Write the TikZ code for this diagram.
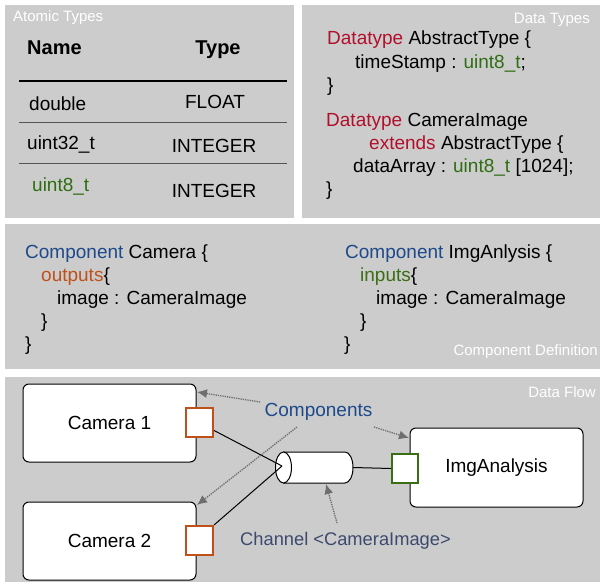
\documentclass[tikz,border=0pt]{standalone}
\usepackage{fontspec}
\setmainfont{Liberation Sans}
\usetikzlibrary{arrows.meta}
\definecolor{panelgray}{HTML}{CCCCCC}
\definecolor{kwred}{HTML}{B0102C}
\definecolor{kwgreen}{HTML}{2F6E12}
\definecolor{kwblue}{HTML}{1C4A8A}
\definecolor{kworange}{HTML}{C0501A}
\definecolor{portgreen}{HTML}{3A6E14}
\definecolor{chancol}{HTML}{3C4A6E}
\definecolor{hintgray}{HTML}{6E6E6E}
\definecolor{rulegray}{HTML}{555555}
\begin{document}
\begin{tikzpicture}[x=1pt,y=-1pt,
  panel/.style={fill=panelgray, draw=none},
  txt/.style={anchor=base west, inner sep=0pt, font=\fontsize{19}{23}\selectfont},
  ctxt/.style={anchor=base, inner sep=0pt, font=\fontsize{19}{23}\selectfont},
  btxt/.style={anchor=base west, inner sep=0pt, font=\fontsize{20}{24}\selectfont\bfseries},
  bctxt/.style={anchor=base, inner sep=0pt, font=\fontsize{20}{24}\selectfont\bfseries},
  plabel/.style={inner sep=0pt, text=white, font=\fontsize{15}{18}\selectfont},
  comp/.style={draw=black, line width=1pt, fill=white, rounded corners=6pt,
    minimum width=173pt, minimum height=78pt, inner sep=0pt, font=\fontsize{19}{23}\selectfont},
  outport/.style={draw=kworange, line width=2.2pt, fill=white, minimum width=27pt, minimum height=29pt, inner sep=0pt},
  inport/.style={draw=portgreen, line width=2.2pt, fill=white, minimum width=26pt, minimum height=29pt, inner sep=0pt},
  wire/.style={draw=black, line width=1pt},
  hint/.style={draw=hintgray, line width=1.3pt, densely dotted, -{Latex[length=10pt,width=9pt]}},
  hdrrule/.style={line width=1.5pt, draw=black},
  rowrule/.style={line width=1pt, draw=rulegray}
]
\useasboundingbox (0,0) rectangle (601,585);
\fill[white] (0,0) rectangle (601,585);

% panels
\fill[panel] (5,5) rectangle (294,218);
\fill[panel] (302,5) rectangle (600,218);
\fill[panel] (5,224) rectangle (600,369);
\fill[panel] (5,377) rectangle (600,582);

% panel labels
\node[plabel, anchor=base west] (lblA) at (13,22) {Atomic Types};
\node[plabel, anchor=base east] (lblD) at (590,24) {Data Types};
\node[plabel, anchor=base east] (lblC) at (598,355) {Component Definition};
\node[plabel, anchor=base east] (lblF) at (596,397) {Data Flow};

% atomic types table
\node[btxt] (hname) at (27,55) {Name};
\node[bctxt] (htype) at (218,55) {Type};
\draw[hdrrule] (19,81) -- (287,81);
\node[txt] (r1a) at (29,111) {double};
\node[ctxt] (r1b) at (215,109) {FLOAT};
\draw[rowrule] (19,123) -- (287,123);
\node[txt] (r2a) at (27,150) {uint32\_t};
\node[ctxt] (r2b) at (214,153) {INTEGER};
\draw[rowrule] (19,164) -- (287,164);
\node[txt, text=kwgreen] (r3a) at (32,192) {uint8\_t};
\node[ctxt] (r3b) at (214,197) {INTEGER};

% data types
\node[txt] (d1) at (327,45) {\textcolor{kwred}{Datatype} AbstractType \{};
\node[txt] (d2) at (355,68.5) {timeStamp : \textcolor{kwgreen}{uint8\_t};};
\node[txt] (d3) at (327,92) {\}};
\node[txt] (d4) at (326,127) {\textcolor{kwred}{Datatype} CameraImage};
\node[txt] (d5) at (369,150) {\textcolor{kwred}{extends} AbstractType \{};
\node[txt] (d6) at (353,173) {dataArray : \textcolor{kwgreen}{uint8\_t} [1024];};
\node[txt] (d7) at (326,196) {\}};

% component definitions
\node[txt] (c1) at (25,258) {\textcolor{kwblue}{Component} Camera \{};
\node[txt] (c2) at (41,281) {\textcolor{kworange}{outputs}\{};
\node[txt] (c3) at (57,304) {image : CameraImage};
\node[txt] (c4) at (41,327) {\}};
\node[txt] (c5) at (25,350) {\}};
\node[txt] (i1) at (345,258) {\textcolor{kwblue}{Component} ImgAnlysis \{};
\node[txt] (i2) at (360,281) {\textcolor{portgreen}{inputs}\{};
\node[txt] (i3) at (376,304) {image : CameraImage};
\node[txt] (i4) at (360,327) {\}};
\node[txt] (i5) at (344,350) {\}};

% data flow
\node[comp] (cam1) at (109.5,423) {Camera 1};
\node[comp] (cam2) at (109.5,541) {Camera 2};
\node[comp, minimum height=79pt] (img) at (496.5,467.5) {ImgAnalysis};
\node[outport] (p1) at (199.5,422.5) {};
\node[outport] (p2) at (199.5,540.5) {};
\node[inport] (pin) at (405,468.5) {};

% channel cylinder
\fill[white, draw=black, line width=1pt] (283.5,452) -- (345,452)
   arc[start angle=-90, end angle=90, x radius=8, y radius=15.5] -- (283.5,483) -- cycle;
\draw[fill=white, line width=1pt] (283.5,467.5) ellipse[x radius=8, y radius=15.5];
\coordinate (chin) at (282,466);
\coordinate (chout) at (353,467.5);

\draw[wire] ([yshift=-8pt]p1.east) -- (chin);
\draw[wire] (p2.north east) -- (chin);
\draw[wire] (chout) -- (pin.west);

% labels and hints
\node[ctxt, text=kwblue] (comps) at (318.5,416) {Components};
\node[anchor=base west, inner sep=0pt, font=\fontsize{18.3}{22}\selectfont, text=chancol] (chan) at (240,545) {Channel <CameraImage>};

\coordinate (h1s) at (260,402);
\coordinate (h1e) at (197,392);
\coordinate (h2s) at (297,427);
\coordinate (h2e) at (197,505);
\coordinate (h3s) at (374,427);
\coordinate (h3e) at (409,438);
\coordinate (h4s) at (337,523);
\coordinate (h4e) at (326,484);
\draw[hint] (h1s) -- (h1e);
\draw[hint] (h2s) -- (h2e);
\draw[hint] (h3s) -- (h3e);
\draw[hint] (h4s) -- (h4e);
\end{tikzpicture}
\end{document}
